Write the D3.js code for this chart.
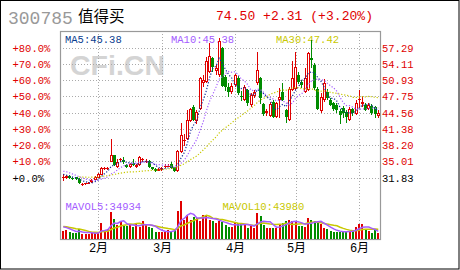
<!DOCTYPE html>
<html><head><meta charset="utf-8">
<script src="https://cdn.jsdelivr.net/npm/d3@7"></script>
<style>
html,body{margin:0;padding:0;background:#fff;}
svg{display:block;font-family:"Liberation Mono","DejaVu Sans Mono",monospace;}
</style></head><body>
<svg id="c" width="460" height="270"></svg>
<script>
// ---------- data ----------
const stockCode = "300785";
const stockName = "值得买";
const quoteText = "74.50 +2.31 (+3.20%)";
const baseClose = 31.83;
const pctTicks = [80, 70, 60, 50, 40, 30, 20, 10, 0];
const pctLabels = ["+80.0%", "+70.0%", "+60.0%", "+50.0%", "+40.0%", "+30.0%", "+20.0%", "+10.0%", "+0.0%"];
const priceLabels = ["57.29", "54.11", "50.93", "47.75", "44.56", "41.38", "38.20", "35.01", "31.83"];
const monthLabels = ["1月", "2月", "3月", "4月", "5月", "6月"];
const monthCounts = [11, 20, 23, 19, 20, 7];
const maLabels = ["MA5:45.38", "MA10:45.38", "MA30:47.42"];
const volLabels = ["MAVOL5:34934", "MAVOL10:43980"];

const opens = [31.8,31.8,32.1,31.8,31.9,31.6,30.5,30.5,30.6,30.9,31.3,
  31.8,32.4,33.6,33.6,35.0,36.2,33.9,35.3,35.2,34.3,33.9,34.6,34.0,34.3,35.3,35.0,35.1,33.9,33.6,33.2,
  33.3,33.9,34.1,34.6,33.9,33.1,36.8,39.1,39.5,42.9,45.7,42.9,45.2,50.4,50.6,52.6,55.2,52.8,51.9,57.2,51.5,49.5,48.7,
  49.9,51.4,47.8,47.1,49.0,46.0,47.9,50.3,51.3,46.2,44.5,43.9,46.7,43.8,47.1,48.7,45.1,43.1,49.0,
  49.3,52.0,50.5,48.7,49.0,55.2,53.9,49.3,44.8,47.0,48.7,47.0,46.4,46.1,44.8,45.4,44.7,43.1,45.2,44.4,
  47.1,46.2,46.1,45.3,45.8,45.6,44.0];
const highs = [32.6,32.3,32.4,32.0,32.0,31.7,30.8,30.8,30.9,31.6,32.2,
  32.8,34.0,34.0,33.9,39.5,36.3,35.4,35.7,35.9,34.5,34.8,35.5,34.6,36.1,35.7,35.4,35.2,34.0,33.8,33.7,
  34.0,34.5,34.6,34.9,34.0,37.2,42.5,40.3,45.1,45.5,46.0,45.0,51.6,52.0,55.5,58.2,55.4,54.0,59.1,57.4,52.0,50.4,50.3,
  52.2,51.7,48.8,50.0,49.3,48.5,49.0,56.5,51.5,46.5,45.2,46.6,47.0,46.7,49.4,50.4,45.3,49.5,54.7,
  56.5,52.6,51.0,53.3,56.5,58.8,54.2,49.6,48.5,51.2,49.2,47.4,46.7,46.4,45.2,45.8,45.0,45.6,45.5,47.0,
  49.0,47.8,46.4,46.4,46.2,45.8,45.0];
const lows = [31.2,31.6,31.5,31.4,31.3,30.5,30.3,30.4,30.5,30.8,31.2,
  31.7,32.3,33.3,33.4,34.9,34.2,33.8,35.0,34.6,33.8,33.8,34.2,33.8,34.2,35.0,34.8,33.8,33.4,32.9,33.1,
  33.2,33.8,33.9,33.6,33.0,33.0,36.6,38.0,39.3,42.7,42.9,42.4,45.0,49.6,50.4,52.3,52.6,52.0,51.5,49.6,48.8,47.7,48.3,
  49.6,48.0,46.8,46.9,45.8,45.6,47.5,50.0,46.2,44.0,44.0,43.7,43.5,43.5,43.5,46.8,42.5,42.9,48.8,
  49.0,50.2,49.4,48.4,48.8,53.4,49.0,45.0,44.5,46.7,47.0,45.8,44.9,44.6,42.3,43.6,42.5,42.9,44.0,44.1,
  45.5,45.6,44.8,45.0,44.1,43.6,43.6];
const closes = [32.0,32.1,31.7,31.6,31.6,30.7,30.6,30.7,30.7,31.4,31.9,
  32.5,33.8,33.7,33.7,36.3,34.3,35.0,35.4,35.0,33.9,34.6,34.4,34.4,35.8,35.5,35.1,33.9,33.6,33.1,33.5,
  33.8,34.2,34.2,33.8,33.1,37.1,40.2,39.3,43.1,45.3,43.1,44.7,51.4,50.9,54.7,55.7,53.6,53.4,58.7,49.8,49.5,48.7,49.8,
  51.9,48.4,47.6,49.6,46.4,48.0,48.6,52.9,47.5,44.3,44.8,46.3,43.8,46.4,47.6,47.0,43.8,49.3,51.3,
  53.6,50.6,49.9,51.3,56.2,54.9,49.4,45.3,47.7,50.3,47.4,46.1,45.3,45.0,44.1,44.5,43.8,45.3,44.6,46.4,
  47.3,46.7,45.1,46.1,44.6,44.3,44.6];
const volumes = [37600,40800,33100,28500,29200,43900,24000,23600,24200,25800,30400,
  30300,71100,33100,43900,123700,89200,63400,75700,60200,57500,66600,55700,66600,54400,81500,66600,55700,51200,30400,30400,
  31700,33100,40800,36200,43900,126800,173500,86100,108700,88300,101000,93800,81500,108700,104200,86100,81500,73800,81500,75700,63400,55700,53000,
  75700,71100,66600,63400,51200,60200,51200,119100,105500,63400,51200,51200,51200,51200,66600,73800,81500,86100,83800,
  75700,60200,60200,55700,96500,86100,81500,71100,66600,51200,45300,36200,30400,33100,33100,33100,36200,36200,36200,56600,
  68000,68000,40800,36200,28500,40800,28500];
// closes / volumes just before the visible window (used only for the moving averages)
const priorCloses = [31.2,31.5,31.3,31.0,31.4,31.6,31.2,31.1,31.5,31.8,31.4,31.3,31.6,31.5,31.4,
  33.2,33.9,34.1,33.8,33.5,33.0,32.7,32.5,32.3];
const priorVolumes = [58000,62000,55000,60000,57000,61000,59000,60000,60400];

// ---------- layout ----------
const svg = d3.select("#c");
const plot = {l: 60, r: 380, t: 31, b: 239};
const n = closes.length;
const x = d3.scaleBand().domain(d3.range(n)).range([61.7, 379.9]).padding(0);
const cx = i => x(i) + x.bandwidth() / 2;
const y = d3.scaleLinear().domain([baseClose, baseClose * 1.8]).range([177.7, 47.7]);
const yv = d3.scaleLinear().domain([0, d3.max(volumes)]).range([239, 200.7]);

const RED = "#e00000", GREEN = "#008c00", GRID = "#aaaaaa";
const MONO = '"Liberation Mono","DejaVu Sans Mono",monospace';

// outer frame
svg.append("rect").attr("x", 0.5).attr("y", 0.5).attr("width", 458.5).attr("height", 268.5)
  .attr("fill", "#fff").attr("stroke", "#000").attr("stroke-width", 1);

// header
svg.append("text").attr("x", 8).attr("y", 23.5).attr("font-size", 18).attr("fill", "#999")
  .style("font-family", MONO).text(stockCode);
svg.append("text").attr("x", 78).attr("y", 22).attr("font-size", 15.5)
  .style("font-family", '"Noto Sans CJK SC", sans-serif').attr("fill", "#000").text(stockName);
svg.append("text").attr("x", 216).attr("y", 20).attr("font-size", 13).attr("fill", RED)
  .style("font-family", MONO).attr("textLength", 157).text(quoteText);

// watermark
svg.append("text").attr("x", 70).attr("y", 75).attr("font-size", 28.5).attr("font-weight", "bold")
  .style("font-family", '"Liberation Sans", Arial, sans-serif').attr("fill", "#d4d4d4").text("CFi.CN");

// grid
const g = svg.append("g").attr("shape-rendering", "crispEdges");
pctTicks.forEach(p => {
  const yy = Math.round(y(baseClose * (1 + p / 100))) + 0.5;
  g.append("line").attr("x1", plot.l).attr("x2", plot.r).attr("y1", yy).attr("y2", yy)
    .attr("stroke", GRID).attr("stroke-dasharray", "1,2");
});
const monthStart = [];
let acc = 0;
monthCounts.forEach(c => { monthStart.push(acc); acc += c; });
monthLabels.forEach((m, k) => {
  if (k === 0) return;
  const xx = Math.round(cx(monthStart[k])) + 0.5;
  g.append("line").attr("x1", xx).attr("x2", xx).attr("y1", plot.t).attr("y2", plot.b)
    .attr("stroke", GRID).attr("stroke-dasharray", "1,2");
  svg.append("text").attr("x", xx).attr("y", 251.5).attr("text-anchor", "middle")
    .attr("font-size", 12).attr("fill", "#000")
    .style("font-family", '"Liberation Mono","Noto Sans CJK SC",monospace').text(m);
});

// plot frame
svg.append("rect").attr("x", plot.l + 0.5).attr("y", plot.t + 0.5)
  .attr("width", plot.r - plot.l).attr("height", plot.b - plot.t)
  .attr("fill", "none").attr("stroke", "#999").attr("stroke-width", 1.2);

// axis labels
pctTicks.forEach((p, k) => {
  const yy = y(baseClose * (1 + p / 100));
  svg.append("text").attr("x", 12.5).attr("y", yy + 3.8).attr("font-size", 10.5)
    .style("font-family", MONO).attr("fill", p === 0 ? "#000" : RED).text(pctLabels[k]);
  svg.append("text").attr("x", 382).attr("y", yy + 3.8).attr("font-size", 10.5)
    .style("font-family", MONO).attr("fill", p === 0 ? "#000" : RED).text(priceLabels[k]);
});

// MA labels
function lab(xp, yp, c, t) {
  svg.append("text").attr("x", xp).attr("y", yp).attr("font-size", 10.5).attr("fill", c)
    .style("font-family", MONO).text(t);
}
lab(65, 43, "#0a3d8f", maLabels[0]);
lab(171, 43, "#a45cff", maLabels[1]);
lab(276, 43, "#c8c800", maLabels[2]);
lab(65.5, 210, "#a45cff", volLabels[0]);
lab(222.5, 210, "#c8c800", volLabels[1]);

// candles
const cg = svg.append("g").attr("shape-rendering", "crispEdges");
for (let i = 0; i < n; i++) {
  const up = closes[i] >= opens[i];
  const col = up ? RED : GREEN;
  const bx = Math.round(cx(i) - 1.5);
  const wx = bx + 1.5;
  const yTop = y(Math.max(opens[i], closes[i])), yBot = y(Math.min(opens[i], closes[i]));
  cg.append("line").attr("x1", wx).attr("x2", wx).attr("y1", y(highs[i])).attr("y2", yTop)
    .attr("stroke", col);
  cg.append("line").attr("x1", wx).attr("x2", wx).attr("y1", yBot).attr("y2", y(lows[i]))
    .attr("stroke", col);
  const t = Math.round(yTop), b = Math.round(yBot);
  if (b - t < 2) {
    cg.append("line").attr("x1", bx).attr("x2", bx + 3).attr("y1", t + 0.5).attr("y2", t + 0.5)
      .attr("stroke", col);
  } else if (up) {
    cg.append("rect").attr("x", bx + 0.5).attr("y", t + 0.5).attr("width", 2).attr("height", b - t - 1)
      .attr("fill", "#fff").attr("stroke", col);
  } else {
    cg.append("rect").attr("x", bx).attr("y", t).attr("width", 3).attr("height", b - t)
      .attr("fill", col);
  }
}

// moving averages
function ma(series, prior, k) {
  const all = prior.concat(series);
  const off = prior.length;
  const out = [];
  for (let i = 0; i < series.length; i++) {
    const j = i + off;
    if (j - k + 1 < 0) { out.push(null); continue; }
    out.push(d3.mean(all.slice(j - k + 1, j + 1)));
  }
  return out;
}
const lineP = d3.line().defined(d => d[1] != null).x(d => cx(d[0])).y(d => y(d[1]));
[[5, "#102a9a"], [10, "#a45cff"], [30, "#c8c800"]].forEach(([k, c]) => {
  const m = ma(closes, priorCloses, k);
  svg.append("path").datum(m.map((v, i) => [i, v])).attr("d", lineP)
    .attr("fill", "none").attr("stroke", c).attr("stroke-width", 1.2).attr("stroke-dasharray", "1.2,1.8");
});

// volume bars
const vg = svg.append("g").attr("shape-rendering", "crispEdges");
for (let i = 0; i < n; i++) {
  const up = closes[i] >= opens[i];
  const bx = Math.round(cx(i) - 1);
  const t = Math.round(yv(volumes[i]));
  vg.append("rect").attr("x", bx).attr("y", t).attr("width", 2).attr("height", 239 - t)
    .attr("fill", up ? RED : GREEN);
}
const lineV = d3.line().defined(d => d[1] != null).x(d => cx(d[0])).y(d => yv(d[1]));
[[10, "#c8c800"], [5, "#a45cff"]].forEach(([k, c]) => {
  const m = ma(volumes, priorVolumes, k);
  svg.append("path").datum(m.map((v, i) => [i, v])).attr("d", lineV)
    .attr("fill", "none").attr("stroke", c).attr("stroke-width", 1.5);
});
</script>
</body></html>
